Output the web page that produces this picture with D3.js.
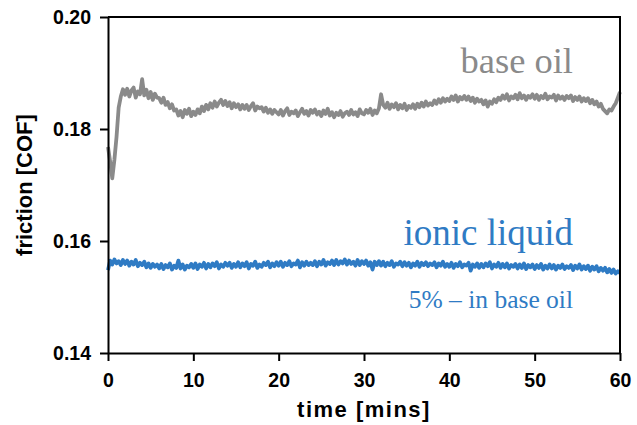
<!DOCTYPE html>
<html>
<head>
<meta charset="utf-8">
<script src="https://cdn.jsdelivr.net/npm/d3@7"></script>
<style>
  body { margin: 0; background: #fff; }
</style>
</head>
<body>
<div id="chart"></div>
<script>
// sampling step of the recorded trace, in minutes
const sampleStep = 0.25;

// friction of the base oil, one value every 0.25 min (0 .. 60)
const baseOil = [
  0.1768, 0.1742, 0.1712, 0.1745, 0.1786, 0.1838, 0.1858, 0.1871,
  0.1861, 0.1872, 0.1858, 0.1869, 0.1874, 0.1856, 0.1867, 0.1862,
  0.1889, 0.1860, 0.1870, 0.1855, 0.1866, 0.1852, 0.1863, 0.1856,
  0.1855, 0.1847, 0.1856, 0.1843, 0.1848, 0.1837, 0.1844, 0.1833,
  0.1835, 0.1824, 0.1832, 0.1821, 0.1834, 0.1827, 0.1836, 0.1823,
  0.1831, 0.1825, 0.1835, 0.1828, 0.1840, 0.1832, 0.1843, 0.1835,
  0.1846, 0.1838, 0.1849, 0.1840, 0.1847, 0.1852, 0.1843, 0.1850,
  0.1841, 0.1848, 0.1837, 0.1846, 0.1839, 0.1844, 0.1835, 0.1843,
  0.1836, 0.1843, 0.1834, 0.1841, 0.1846, 0.1833, 0.1840, 0.1837,
  0.1839, 0.1831, 0.1838, 0.1829, 0.1835, 0.1827, 0.1834, 0.1830,
  0.1826, 0.1834, 0.1824, 0.1832, 0.1837, 0.1825, 0.1831, 0.1828,
  0.1833, 0.1823, 0.1830, 0.1836, 0.1827, 0.1832, 0.1824, 0.1834,
  0.1829, 0.1835, 0.1826, 0.1831, 0.1823, 0.1833, 0.1827, 0.1836,
  0.1824, 0.1830, 0.1821, 0.1829, 0.1825, 0.1832, 0.1822, 0.1828,
  0.1831, 0.1825, 0.1834, 0.1826, 0.1830, 0.1823, 0.1835, 0.1828,
  0.1826, 0.1834, 0.1829, 0.1836, 0.1825, 0.1833, 0.1828, 0.1837,
  0.1862, 0.1843, 0.1838, 0.1847, 0.1836, 0.1844, 0.1839, 0.1846,
  0.1835, 0.1843, 0.1837, 0.1845, 0.1834, 0.1841, 0.1838, 0.1844,
  0.1836, 0.1845, 0.1839, 0.1847, 0.1840, 0.1849, 0.1842, 0.1846,
  0.1843, 0.1851, 0.1845, 0.1853, 0.1847, 0.1855, 0.1849, 0.1854,
  0.1850, 0.1858, 0.1852, 0.1860, 0.1849, 0.1857, 0.1853, 0.1859,
  0.1852, 0.1858, 0.1850, 0.1856, 0.1847, 0.1854, 0.1849, 0.1852,
  0.1844, 0.1851, 0.1840, 0.1849, 0.1845, 0.1853, 0.1848, 0.1856,
  0.1852, 0.1860, 0.1854, 0.1862, 0.1851, 0.1858, 0.1855, 0.1861,
  0.1853, 0.1864, 0.1855, 0.1860, 0.1852, 0.1859, 0.1856, 0.1862,
  0.1854, 0.1861, 0.1852, 0.1859, 0.1855, 0.1863, 0.1853, 0.1858,
  0.1856, 0.1861, 0.1851, 0.1860, 0.1854, 0.1858, 0.1852, 0.1859,
  0.1855, 0.1860, 0.1850, 0.1857, 0.1852, 0.1858, 0.1849, 0.1855,
  0.1850, 0.1855, 0.1846, 0.1852, 0.1844, 0.1849, 0.1840, 0.1845,
  0.1836, 0.1832, 0.1828, 0.1835, 0.1833, 0.1840, 0.1846, 0.1856,
  0.1866
];

// friction with 5% ionic liquid in base oil, same sampling
const ionicLiquid = [
  0.1548, 0.1565, 0.1558, 0.1567, 0.1560, 0.1564, 0.1557, 0.1566,
  0.1559, 0.1565, 0.1556, 0.1563, 0.1558, 0.1566, 0.1555, 0.1561,
  0.1557, 0.1563, 0.1553, 0.1560, 0.1552, 0.1559, 0.1554, 0.1558,
  0.1551, 0.1559, 0.1550, 0.1557, 0.1553, 0.1560, 0.1549, 0.1556,
  0.1552, 0.1565, 0.1551, 0.1558, 0.1549, 0.1556, 0.1553, 0.1559,
  0.1552, 0.1560, 0.1550, 0.1558, 0.1554, 0.1561, 0.1551, 0.1559,
  0.1553, 0.1560, 0.1555, 0.1562, 0.1551, 0.1558, 0.1554, 0.1561,
  0.1556, 0.1561, 0.1552, 0.1559, 0.1554, 0.1562, 0.1553, 0.1560,
  0.1555, 0.1562, 0.1551, 0.1559, 0.1556, 0.1563, 0.1552, 0.1558,
  0.1554, 0.1561, 0.1557, 0.1563, 0.1553, 0.1560, 0.1555, 0.1562,
  0.1556, 0.1563, 0.1554, 0.1561, 0.1557, 0.1564, 0.1555, 0.1560,
  0.1558, 0.1565, 0.1553, 0.1562, 0.1556, 0.1563, 0.1557, 0.1561,
  0.1557, 0.1564, 0.1555, 0.1563, 0.1558, 0.1566, 0.1556, 0.1562,
  0.1559, 0.1565, 0.1557, 0.1566, 0.1558, 0.1564, 0.1560, 0.1567,
  0.1558, 0.1565, 0.1559, 0.1563, 0.1556, 0.1566, 0.1557, 0.1564,
  0.1559, 0.1565, 0.1556, 0.1562, 0.1549, 0.1563, 0.1557, 0.1564,
  0.1556, 0.1563, 0.1555, 0.1561, 0.1557, 0.1564, 0.1554, 0.1560,
  0.1558, 0.1563, 0.1555, 0.1562, 0.1556, 0.1561, 0.1553, 0.1560,
  0.1556, 0.1563, 0.1554, 0.1561, 0.1557, 0.1562, 0.1555, 0.1560,
  0.1557, 0.1562, 0.1553, 0.1560, 0.1556, 0.1563, 0.1554, 0.1559,
  0.1554, 0.1561, 0.1552, 0.1559, 0.1555, 0.1562, 0.1553, 0.1558,
  0.1556, 0.1561, 0.1547, 0.1558, 0.1554, 0.1560, 0.1552, 0.1559,
  0.1553, 0.1560, 0.1555, 0.1562, 0.1551, 0.1558, 0.1554, 0.1561,
  0.1552, 0.1559, 0.1553, 0.1560, 0.1551, 0.1557, 0.1554, 0.1559,
  0.1551, 0.1558, 0.1552, 0.1560, 0.1550, 0.1557, 0.1553, 0.1558,
  0.1550, 0.1557, 0.1552, 0.1559, 0.1549, 0.1556, 0.1551, 0.1558,
  0.1551, 0.1557, 0.1549, 0.1556, 0.1552, 0.1558, 0.1550, 0.1555,
  0.1552, 0.1557, 0.1548, 0.1556, 0.1551, 0.1558, 0.1549, 0.1555,
  0.1550, 0.1556, 0.1547, 0.1554, 0.1549, 0.1555, 0.1546, 0.1552,
  0.1547, 0.1552, 0.1544, 0.1550, 0.1543, 0.1549, 0.1542, 0.1546,
  0.1543
];

const xTicks = [0, 10, 20, 30, 40, 50, 60];
const yTicks = [0.14, 0.16, 0.18, 0.20];

const seriesLabels = [
  { name: "base oil", data: baseOil, color: "#8a8a8a" },
  { name: "ionic liquid", data: ionicLiquid, color: "#2f7bc4" }
];

(function() {
  const width = 637;
  const height = 425;
  const margin = { top: 17, right: 17, bottom: 72, left: 108 };

  const svg = d3.select("#chart")
    .append("svg")
    .attr("width", width)
    .attr("height", height);

  const x = d3.scaleLinear()
    .domain([0, 60])
    .range([margin.left, width - margin.right]);

  const y = d3.scaleLinear()
    .domain([0.14, 0.20])
    .range([height - margin.bottom, margin.top]);

  // the two friction traces
  const line = d3.line()
    .x((d, i) => x(i * sampleStep))
    .y(d => y(d));

  svg.selectAll(".trace")
    .data(seriesLabels)
    .enter()
    .append("path")
    .attr("class", "trace")
    .attr("d", d => line(d.data))
    .style("fill", "none")
    .style("stroke", d => d.color)
    .style("stroke-width", 3.8)
    .style("stroke-linejoin", "round");

  // axes
  const xAxis = svg.append("g")
    .attr("transform", `translate(0,${y(0.14)})`)
    .call(d3.axisBottom(x).tickValues(xTicks).tickSize(8).tickSizeOuter(0).tickPadding(12));

  const yAxis = svg.append("g")
    .attr("transform", `translate(${x(0)},0)`)
    .call(d3.axisLeft(y).tickValues(yTicks).tickFormat(d3.format(".2f")).tickSize(8).tickSizeOuter(0).tickPadding(9));

  [xAxis, yAxis].forEach(g => {
    g.selectAll("path, line")
      .style("stroke", "#000")
      .style("stroke-width", 2);
    g.selectAll("text")
      .style("font-family", "'Liberation Sans', Arial, sans-serif")
      .style("font-weight", "bold")
      .style("font-size", "19.5px")
      .style("fill", "#000");
  });

  // top and right frame
  svg.append("path")
    .attr("d", `M${x(0)},${y(0.20)}H${x(60)}V${y(0.14)}`)
    .style("fill", "none")
    .style("stroke", "#000")
    .style("stroke-width", 2);

  // axis titles
  svg.append("text")
    .attr("x", (x(0) + x(60)) / 2)
    .attr("y", 417)
    .attr("text-anchor", "middle")
    .style("font-family", "'Liberation Sans', Arial, sans-serif")
    .style("font-weight", "bold")
    .style("font-size", "22px")
    .style("letter-spacing", "1.5px")
    .text("time [mins]");

  svg.append("text")
    .attr("transform", `translate(32,${(y(0.14) + y(0.20)) / 2}) rotate(-90)`)
    .attr("text-anchor", "middle")
    .style("font-family", "'Liberation Sans', Arial, sans-serif")
    .style("font-weight", "bold")
    .style("font-size", "22px")
    .text("friction [COF]");

  // in-plot labels
  const serif = "'Liberation Serif', 'Times New Roman', serif";
  svg.append("text")
    .attr("x", 573).attr("y", 73)
    .attr("text-anchor", "end")
    .style("font-family", serif)
    .style("font-size", "36.5px")
    .style("fill", "#8a8a8a")
    .text("base oil");

  svg.append("text")
    .attr("x", 573).attr("y", 245)
    .attr("text-anchor", "end")
    .style("font-family", serif)
    .style("font-size", "37px")
    .style("fill", "#2f7bc4")
    .text("ionic liquid");

  svg.append("text")
    .attr("x", 573).attr("y", 308)
    .attr("text-anchor", "end")
    .style("font-family", serif)
    .style("font-size", "25.5px")
    .style("fill", "#2f7bc4")
    .text("5% \u2013 in base oil");
})();
</script>
</body>
</html>
